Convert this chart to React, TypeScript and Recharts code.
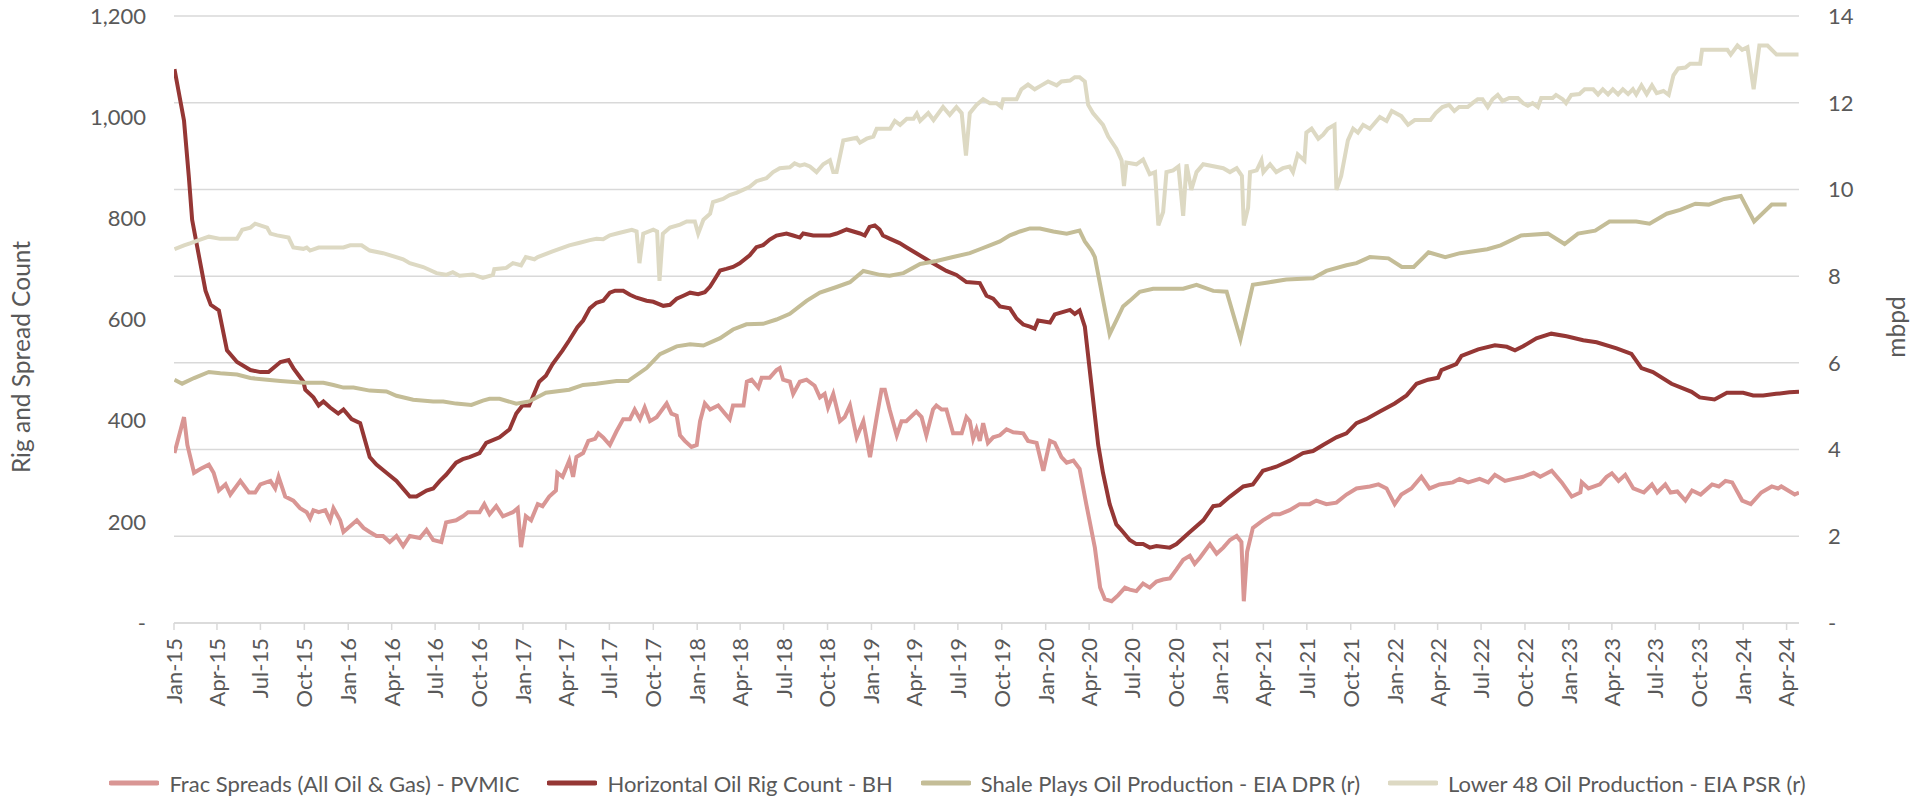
import { CartesianGrid, Legend, Line, LineChart, XAxis, YAxis } from "recharts";

// weekly / monthly readings: [date, value]
const fracSpreads: [string, number][] = [
  ["2015-01-02", 336], ["2015-01-22", 407], ["2015-01-29", 352], ["2015-02-12", 297], ["2015-02-26", 305],
  ["2015-03-15", 313], ["2015-03-25", 297], ["2015-04-05", 262], ["2015-04-19", 274], ["2015-04-29", 254],
  ["2015-05-20", 281], ["2015-06-07", 258], ["2015-06-20", 258], ["2015-07-01", 274], ["2015-07-22", 281],
  ["2015-08-01", 266], ["2015-08-08", 289], ["2015-08-22", 250], ["2015-09-08", 242], ["2015-09-22", 227],
  ["2015-10-06", 219], ["2015-10-13", 207], ["2015-10-20", 223], ["2015-10-31", 219], ["2015-11-14", 223],
  ["2015-11-24", 203], ["2015-12-01", 227], ["2015-12-15", 203], ["2015-12-22", 180], ["2016-01-19", 203],
  ["2016-02-02", 188], ["2016-02-15", 180], ["2016-02-29", 172], ["2016-03-14", 172], ["2016-03-28", 160],
  ["2016-04-11", 172], ["2016-04-25", 152], ["2016-05-09", 172], ["2016-05-30", 168], ["2016-06-13", 184],
  ["2016-06-27", 164], ["2016-07-14", 160], ["2016-07-24", 199], ["2016-08-14", 203], ["2016-08-28", 211],
  ["2016-09-08", 219], ["2016-10-02", 219], ["2016-10-12", 235], ["2016-10-23", 215], ["2016-11-06", 231],
  ["2016-11-20", 211], ["2016-12-11", 219], ["2016-12-21", 227], ["2016-12-28", 150], ["2017-01-07", 211],
  ["2017-01-18", 203], ["2017-02-01", 235], ["2017-02-11", 231], ["2017-02-25", 250], ["2017-03-11", 262],
  ["2017-03-14", 297], ["2017-03-25", 289], ["2017-04-08", 321], ["2017-04-16", 289], ["2017-04-23", 328],
  ["2017-05-07", 336], ["2017-05-18", 360], ["2017-06-01", 364], ["2017-06-08", 375], ["2017-06-18", 367],
  ["2017-07-02", 352], ["2017-07-16", 379], ["2017-07-30", 403], ["2017-08-13", 403], ["2017-08-23", 422],
  ["2017-09-03", 403], ["2017-09-13", 426], ["2017-09-24", 399], ["2017-10-08", 407], ["2017-10-29", 434],
  ["2017-11-08", 414], ["2017-11-19", 410], ["2017-11-26", 371], ["2017-12-06", 360], ["2017-12-20", 348],
  ["2017-12-31", 352], ["2018-01-07", 399], ["2018-01-17", 434], ["2018-01-28", 422], ["2018-02-14", 430],
  ["2018-02-28", 414], ["2018-03-10", 403], ["2018-03-17", 430], ["2018-04-08", 430], ["2018-04-15", 477],
  ["2018-04-25", 481], ["2018-05-09", 465], ["2018-05-16", 485], ["2018-06-02", 485], ["2018-06-16", 500],
  ["2018-06-23", 504], ["2018-06-30", 481], ["2018-07-14", 477], ["2018-07-21", 453], ["2018-08-04", 477],
  ["2018-08-18", 481], ["2018-09-04", 469], ["2018-09-15", 446], ["2018-09-25", 453], ["2018-10-02", 426],
  ["2018-10-13", 453], ["2018-10-27", 399], ["2018-11-06", 407], ["2018-11-17", 430], ["2018-12-01", 367],
  ["2018-12-15", 399], ["2018-12-29", 328], ["2019-01-12", 407], ["2019-01-22", 461], ["2019-01-29", 461],
  ["2019-02-08", 422], ["2019-02-23", 371], ["2019-03-05", 399], ["2019-03-15", 399], ["2019-04-05", 418],
  ["2019-04-16", 407], ["2019-04-26", 371], ["2019-05-10", 422], ["2019-05-17", 430], ["2019-05-28", 422],
  ["2019-06-07", 422], ["2019-06-21", 375], ["2019-07-09", 375], ["2019-07-19", 407], ["2019-07-26", 399],
  ["2019-08-02", 364], ["2019-08-09", 383], ["2019-08-16", 360], ["2019-08-23", 395], ["2019-09-02", 356],
  ["2019-09-13", 367], ["2019-09-27", 371], ["2019-10-11", 383], ["2019-10-25", 377], ["2019-11-15", 375],
  ["2019-11-25", 360], ["2019-12-13", 356], ["2019-12-27", 301], ["2020-01-10", 360], ["2020-01-20", 356],
  ["2020-02-03", 328], ["2020-02-14", 317], ["2020-02-28", 321], ["2020-03-12", 305], ["2020-03-26", 235],
  ["2020-04-13", 149], ["2020-04-24", 70], ["2020-05-04", 47], ["2020-05-18", 43], ["2020-06-01", 55],
  ["2020-06-15", 70], ["2020-06-25", 66], ["2020-07-09", 63], ["2020-07-23", 78], ["2020-08-06", 70],
  ["2020-08-20", 82], ["2020-09-03", 86], ["2020-09-17", 88], ["2020-10-01", 106], ["2020-10-15", 125],
  ["2020-10-29", 133], ["2020-11-08", 117], ["2020-11-19", 129], ["2020-12-10", 156], ["2020-12-24", 137],
  ["2021-01-07", 149], ["2021-01-21", 164], ["2021-02-04", 172], ["2021-02-14", 160], ["2021-02-19", 43],
  ["2021-02-26", 141], ["2021-03-10", 188], ["2021-03-31", 203], ["2021-04-21", 215], ["2021-05-05", 215],
  ["2021-05-26", 223], ["2021-06-16", 235], ["2021-07-07", 235], ["2021-07-21", 242], ["2021-08-11", 235],
  ["2021-09-01", 238], ["2021-09-22", 254], ["2021-10-13", 266], ["2021-11-10", 270], ["2021-11-28", 274],
  ["2021-12-15", 266], ["2022-01-01", 235], ["2022-01-15", 254], ["2022-02-05", 266], ["2022-02-26", 289],
  ["2022-03-15", 266], ["2022-04-05", 274], ["2022-05-03", 278], ["2022-05-17", 285], ["2022-06-04", 278],
  ["2022-06-28", 285], ["2022-07-16", 278], ["2022-07-30", 293], ["2022-08-20", 281], ["2022-09-07", 285],
  ["2022-09-27", 289], ["2022-10-19", 297], ["2022-11-02", 289], ["2022-11-26", 301], ["2022-12-17", 278],
  ["2023-01-07", 250], ["2023-01-25", 258], ["2023-01-28", 278], ["2023-02-11", 266], ["2023-03-07", 274],
  ["2023-03-21", 289], ["2023-04-01", 296], ["2023-04-15", 281], ["2023-04-29", 293], ["2023-05-16", 266],
  ["2023-06-07", 258], ["2023-06-24", 274], ["2023-07-05", 258], ["2023-07-22", 274], ["2023-08-02", 258],
  ["2023-08-16", 260], ["2023-09-02", 242], ["2023-09-16", 262], ["2023-10-04", 254], ["2023-10-28", 274],
  ["2023-11-11", 270], ["2023-11-25", 281], ["2023-12-09", 278], ["2023-12-30", 242], ["2024-01-17", 235],
  ["2024-02-08", 258], ["2024-03-01", 270], ["2024-03-14", 266], ["2024-03-21", 270], ["2024-04-18", 254],
  ["2024-04-27", 258],
];

const rigCount: [string, number][] = [
  ["2015-01-02", 1095], ["2015-01-22", 993], ["2015-02-01", 883], ["2015-02-08", 797], ["2015-02-22", 727],
  ["2015-03-08", 657], ["2015-03-19", 629], ["2015-04-05", 618], ["2015-04-22", 539], ["2015-05-13", 516],
  ["2015-06-10", 500], ["2015-07-01", 496], ["2015-07-18", 496], ["2015-08-12", 516], ["2015-08-29", 520],
  ["2015-09-08", 504], ["2015-09-29", 477], ["2015-10-03", 461], ["2015-10-20", 446], ["2015-10-31", 430],
  ["2015-11-10", 438], ["2015-11-24", 426], ["2015-12-11", 414], ["2015-12-22", 422], ["2016-01-08", 403],
  ["2016-01-26", 395], ["2016-02-15", 328], ["2016-02-29", 313], ["2016-03-21", 297], ["2016-04-11", 281],
  ["2016-05-09", 250], ["2016-05-23", 250], ["2016-06-13", 262], ["2016-06-27", 266], ["2016-07-11", 281],
  ["2016-07-24", 293], ["2016-08-14", 317], ["2016-08-28", 324], ["2016-09-11", 328], ["2016-10-02", 336],
  ["2016-10-16", 356], ["2016-11-13", 367], ["2016-12-04", 383], ["2016-12-18", 414], ["2016-12-31", 430],
  ["2017-01-14", 430], ["2017-02-04", 477], ["2017-02-18", 489], ["2017-03-04", 512], ["2017-03-25", 539],
  ["2017-04-08", 559], ["2017-04-25", 585], ["2017-05-07", 598], ["2017-05-21", 622], ["2017-06-04", 633],
  ["2017-06-18", 637], ["2017-07-02", 653], ["2017-07-13", 657], ["2017-07-30", 657], ["2017-08-13", 649],
  ["2017-08-27", 643], ["2017-09-17", 637], ["2017-10-01", 635], ["2017-10-22", 627], ["2017-11-05", 629],
  ["2017-11-19", 641], ["2017-12-03", 647], ["2017-12-17", 653], ["2018-01-03", 650], ["2018-01-17", 654],
  ["2018-01-28", 665], ["2018-02-07", 680], ["2018-02-18", 697], ["2018-03-03", 700], ["2018-03-17", 704],
  ["2018-03-31", 711], ["2018-04-21", 727], ["2018-05-05", 743], ["2018-05-19", 747], ["2018-06-02", 758],
  ["2018-06-16", 766], ["2018-07-07", 770], ["2018-07-21", 766], ["2018-08-04", 762], ["2018-08-11", 770],
  ["2018-09-01", 766], ["2018-10-06", 766], ["2018-10-20", 770], ["2018-11-10", 778], ["2018-12-08", 770],
  ["2018-12-18", 766], ["2018-12-28", 783], ["2019-01-08", 786], ["2019-01-18", 778], ["2019-01-25", 766],
  ["2019-02-08", 760], ["2019-03-01", 751], ["2019-03-15", 743], ["2019-04-05", 731], ["2019-04-26", 719],
  ["2019-05-10", 711], ["2019-06-07", 696], ["2019-06-28", 688], ["2019-07-19", 674], ["2019-08-16", 672],
  ["2019-08-30", 647], ["2019-09-13", 641], ["2019-09-27", 626], ["2019-10-18", 622], ["2019-11-01", 602],
  ["2019-11-15", 590], ["2019-11-29", 586], ["2019-12-09", 582], ["2019-12-16", 598], ["2020-01-10", 594],
  ["2020-01-20", 610], ["2020-02-07", 615], ["2020-02-21", 619], ["2020-03-02", 611], ["2020-03-12", 618],
  ["2020-03-23", 586], ["2020-04-06", 469], ["2020-04-20", 352], ["2020-04-30", 297], ["2020-05-14", 235],
  ["2020-05-28", 195], ["2020-06-11", 180], ["2020-06-25", 164], ["2020-07-09", 156], ["2020-07-23", 156],
  ["2020-08-06", 149], ["2020-08-20", 152], ["2020-09-17", 149], ["2020-10-01", 156], ["2020-10-29", 180],
  ["2020-11-26", 203], ["2020-12-17", 231], ["2020-12-31", 233], ["2021-01-21", 250], ["2021-02-18", 270],
  ["2021-03-10", 274], ["2021-03-31", 301], ["2021-04-28", 309], ["2021-05-26", 321], ["2021-06-23", 336],
  ["2021-07-14", 340], ["2021-08-04", 352], ["2021-09-01", 367], ["2021-09-22", 375], ["2021-10-13", 395],
  ["2021-11-02", 403], ["2021-12-01", 418], ["2022-01-01", 434], ["2022-01-26", 450], ["2022-02-16", 473],
  ["2022-03-12", 481], ["2022-04-02", 485], ["2022-04-09", 500], ["2022-05-10", 512], ["2022-05-21", 528],
  ["2022-06-25", 541], ["2022-07-30", 549], ["2022-08-24", 546], ["2022-09-10", 539], ["2022-09-27", 547],
  ["2022-10-25", 563], ["2022-11-25", 572], ["2022-12-27", 567], ["2023-01-31", 559], ["2023-02-28", 555],
  ["2023-04-11", 543], ["2023-05-12", 532], ["2023-06-02", 504], ["2023-06-26", 496], ["2023-08-04", 473],
  ["2023-09-15", 457], ["2023-10-02", 446], ["2023-11-02", 442], ["2023-11-28", 455], ["2024-01-01", 455],
  ["2024-01-22", 450], ["2024-02-12", 450], ["2024-03-10", 453], ["2024-04-07", 456], ["2024-04-27", 457],
];

const shaleProduction: [string, number][] = [
  ["2015-01-02", 5.61], ["2015-01-18", 5.52], ["2015-02-12", 5.65], ["2015-03-15", 5.79], ["2015-04-08", 5.76],
  ["2015-05-13", 5.73], ["2015-06-10", 5.65], ["2015-07-15", 5.61], ["2015-08-12", 5.58], ["2015-09-29", 5.54],
  ["2015-11-10", 5.54], ["2015-12-01", 5.49], ["2015-12-22", 5.43], ["2016-01-12", 5.43], ["2016-02-15", 5.36],
  ["2016-03-21", 5.34], ["2016-04-11", 5.24], ["2016-05-16", 5.15], ["2016-06-27", 5.11], ["2016-07-18", 5.11],
  ["2016-08-14", 5.06], ["2016-09-15", 5.03], ["2016-10-09", 5.13], ["2016-10-23", 5.17], ["2016-11-13", 5.17],
  ["2016-12-18", 5.06], ["2017-01-14", 5.11], ["2017-02-18", 5.31], ["2017-04-08", 5.38], ["2017-05-07", 5.49],
  ["2017-06-04", 5.52], ["2017-07-16", 5.58], ["2017-08-09", 5.58], ["2017-09-17", 5.88], ["2017-10-15", 6.2],
  ["2017-11-19", 6.38], ["2017-12-17", 6.43], ["2018-01-14", 6.4], ["2018-02-18", 6.57], ["2018-03-17", 6.77],
  ["2018-04-14", 6.89], ["2018-05-19", 6.9], ["2018-06-16", 7.0], ["2018-07-14", 7.13], ["2018-08-18", 7.43],
  ["2018-09-15", 7.62], ["2018-10-20", 7.75], ["2018-11-17", 7.86], ["2018-12-15", 8.12], ["2019-01-19", 8.03],
  ["2019-02-08", 8.01], ["2019-03-09", 8.07], ["2019-04-13", 8.28], ["2019-05-17", 8.35], ["2019-06-21", 8.44],
  ["2019-07-26", 8.53], ["2019-08-16", 8.62], ["2019-09-06", 8.71], ["2019-09-27", 8.8], ["2019-10-18", 8.94],
  ["2019-11-08", 9.03], ["2019-11-29", 9.1], ["2019-12-20", 9.1], ["2020-01-17", 9.03], ["2020-02-14", 8.98],
  ["2020-03-12", 9.05], ["2020-03-23", 8.8], ["2020-04-06", 8.59], ["2020-04-13", 8.44], ["2020-05-14", 6.66],
  ["2020-05-28", 6.98], ["2020-06-11", 7.3], ["2020-06-25", 7.43], ["2020-07-16", 7.64], ["2020-08-13", 7.71],
  ["2020-10-15", 7.71], ["2020-11-12", 7.8], ["2020-12-17", 7.66], ["2021-01-14", 7.64], ["2021-02-12", 6.55],
  ["2021-03-10", 7.8], ["2021-04-14", 7.86], ["2021-05-19", 7.92], ["2021-07-14", 7.95], ["2021-08-11", 8.12],
  ["2021-09-22", 8.25], ["2021-10-13", 8.3], ["2021-11-10", 8.44], ["2021-12-19", 8.41], ["2022-01-16", 8.21],
  ["2022-02-10", 8.21], ["2022-03-13", 8.55], ["2022-04-17", 8.44], ["2022-05-18", 8.53], ["2022-07-14", 8.62],
  ["2022-08-11", 8.71], ["2022-09-23", 8.94], ["2022-11-18", 8.98], ["2022-12-23", 8.74], ["2023-01-20", 8.98],
  ["2023-02-25", 9.05], ["2023-03-27", 9.26], ["2023-05-22", 9.26], ["2023-06-19", 9.21], ["2023-07-25", 9.44],
  ["2023-08-22", 9.53], ["2023-09-23", 9.67], ["2023-10-21", 9.65], ["2023-11-22", 9.78], ["2023-12-27", 9.85],
  ["2024-01-24", 9.26], ["2024-03-01", 9.65], ["2024-04-01", 9.65],
];

const lower48Production: [string, number][] = [
  ["2015-01-02", 8.62], ["2015-01-22", 8.71], ["2015-02-05", 8.76], ["2015-02-19", 8.82], ["2015-03-15", 8.91],
  ["2015-04-08", 8.86], ["2015-05-13", 8.86], ["2015-05-24", 9.07], ["2015-06-10", 9.12], ["2015-06-20", 9.21],
  ["2015-07-15", 9.12], ["2015-07-22", 8.98], ["2015-08-05", 8.94], ["2015-08-29", 8.89], ["2015-09-08", 8.66],
  ["2015-09-29", 8.63], ["2015-10-06", 8.66], ["2015-10-13", 8.59], ["2015-10-31", 8.66], ["2015-11-24", 8.66],
  ["2015-12-22", 8.66], ["2016-01-05", 8.71], ["2016-01-29", 8.71], ["2016-02-15", 8.59], ["2016-03-14", 8.53],
  ["2016-04-25", 8.39], ["2016-05-09", 8.3], ["2016-06-06", 8.21], ["2016-07-04", 8.07], ["2016-07-24", 8.03],
  ["2016-08-07", 8.09], ["2016-08-21", 8.01], ["2016-09-18", 8.04], ["2016-10-09", 7.96], ["2016-10-30", 8.03],
  ["2016-11-02", 8.16], ["2016-11-27", 8.19], ["2016-12-11", 8.3], ["2016-12-28", 8.25], ["2017-01-07", 8.44],
  ["2017-01-25", 8.39], ["2017-02-01", 8.44], ["2017-03-04", 8.57], ["2017-04-08", 8.71], ["2017-04-30", 8.77],
  ["2017-05-21", 8.83], ["2017-06-04", 8.86], ["2017-06-18", 8.85], ["2017-07-02", 8.94], ["2017-07-23", 9.0],
  ["2017-08-17", 9.07], ["2017-08-27", 9.03], ["2017-09-02", 8.3], ["2017-09-10", 8.98], ["2017-10-01", 9.07],
  ["2017-10-09", 9.03], ["2017-10-14", 7.89], ["2017-10-21", 8.98], ["2017-11-05", 9.12], ["2017-11-26", 9.19],
  ["2017-12-10", 9.26], ["2017-12-27", 9.26], ["2018-01-03", 8.98], ["2018-01-14", 9.3], ["2018-01-28", 9.44],
  ["2018-02-03", 9.71], ["2018-02-24", 9.78], ["2018-03-10", 9.87], ["2018-03-24", 9.92], ["2018-04-07", 9.99],
  ["2018-04-21", 10.06], ["2018-05-05", 10.19], ["2018-05-26", 10.26], ["2018-06-09", 10.4], ["2018-06-23", 10.49],
  ["2018-07-14", 10.51], ["2018-07-24", 10.6], ["2018-08-04", 10.55], ["2018-08-14", 10.58], ["2018-08-25", 10.53],
  ["2018-09-08", 10.4], ["2018-09-22", 10.58], ["2018-10-06", 10.67], ["2018-10-13", 10.4], ["2018-10-20", 10.4],
  ["2018-11-03", 11.13], ["2018-12-01", 11.19], ["2018-12-08", 11.08], ["2018-12-22", 11.17], ["2019-01-05", 11.22],
  ["2019-01-12", 11.4], ["2019-02-09", 11.4], ["2019-02-19", 11.58], ["2019-03-02", 11.49], ["2019-03-16", 11.63],
  ["2019-03-30", 11.63], ["2019-04-06", 11.75], ["2019-04-13", 11.58], ["2019-04-30", 11.76], ["2019-05-11", 11.6],
  ["2019-05-31", 11.9], ["2019-06-14", 11.72], ["2019-06-28", 11.9], ["2019-07-09", 11.76], ["2019-07-18", 10.78],
  ["2019-07-26", 11.76], ["2019-08-09", 11.95], ["2019-08-23", 12.08], ["2019-09-06", 11.99], ["2019-09-20", 11.99],
  ["2019-09-30", 11.9], ["2019-10-04", 12.08], ["2019-11-01", 12.08], ["2019-11-11", 12.31], ["2019-11-25", 12.42],
  ["2019-12-09", 12.31], ["2019-12-23", 12.4], ["2020-01-06", 12.49], ["2020-01-24", 12.4], ["2020-02-03", 12.49],
  ["2020-02-21", 12.51], ["2020-03-02", 12.59], ["2020-03-12", 12.59], ["2020-03-23", 12.49], ["2020-03-30", 11.95],
  ["2020-04-09", 11.76], ["2020-04-30", 11.49], ["2020-05-11", 11.22], ["2020-05-28", 10.94], ["2020-06-08", 10.67],
  ["2020-06-13", 10.08], ["2020-06-18", 10.62], ["2020-07-09", 10.58], ["2020-07-23", 10.69], ["2020-08-06", 10.35],
  ["2020-08-17", 10.4], ["2020-08-24", 9.17], ["2020-09-03", 9.48], ["2020-09-10", 10.4], ["2020-09-24", 10.44],
  ["2020-10-05", 10.53], ["2020-10-15", 9.39], ["2020-10-22", 10.58], ["2020-11-01", 9.99], ["2020-11-12", 10.4],
  ["2020-11-26", 10.58], ["2021-01-07", 10.49], ["2021-01-21", 10.4], ["2021-02-04", 10.49], ["2021-02-15", 10.31],
  ["2021-02-19", 9.17], ["2021-02-28", 9.58], ["2021-03-04", 10.4], ["2021-03-18", 10.44], ["2021-03-28", 10.67],
  ["2021-04-01", 10.4], ["2021-04-15", 10.58], ["2021-04-28", 10.4], ["2021-05-12", 10.49], ["2021-05-26", 10.53],
  ["2021-06-02", 10.4], ["2021-06-12", 10.81], ["2021-06-26", 10.67], ["2021-06-30", 11.31], ["2021-07-11", 11.4],
  ["2021-07-25", 11.17], ["2021-08-04", 11.26], ["2021-08-14", 11.4], ["2021-08-28", 11.49], ["2021-09-01", 9.99],
  ["2021-09-11", 10.31], ["2021-09-25", 11.13], ["2021-10-06", 11.4], ["2021-10-16", 11.31], ["2021-10-27", 11.49],
  ["2021-11-10", 11.4], ["2021-12-01", 11.67], ["2021-12-15", 11.58], ["2021-12-26", 11.81], ["2022-01-15", 11.69],
  ["2022-01-29", 11.49], ["2022-02-12", 11.6], ["2022-03-17", 11.6], ["2022-03-28", 11.76], ["2022-04-11", 11.9],
  ["2022-04-25", 11.95], ["2022-05-06", 11.81], ["2022-05-16", 11.9], ["2022-06-03", 11.9], ["2022-06-13", 11.99],
  ["2022-06-24", 12.08], ["2022-07-04", 12.08], ["2022-07-15", 11.9], ["2022-07-25", 12.08], ["2022-08-05", 12.18],
  ["2022-08-15", 12.04], ["2022-08-29", 12.11], ["2022-09-16", 12.11], ["2022-09-27", 11.99], ["2022-10-07", 11.93],
  ["2022-10-17", 11.99], ["2022-10-28", 11.9], ["2022-11-04", 12.11], ["2022-11-28", 12.11], ["2022-12-05", 12.18],
  ["2022-12-19", 12.08], ["2022-12-26", 11.99], ["2023-01-06", 12.18], ["2023-01-23", 12.2], ["2023-02-03", 12.31],
  ["2023-02-21", 12.31], ["2023-03-03", 12.19], ["2023-03-13", 12.31], ["2023-03-24", 12.19], ["2023-04-03", 12.31],
  ["2023-04-14", 12.19], ["2023-04-24", 12.31], ["2023-05-05", 12.2], ["2023-05-15", 12.31], ["2023-05-22", 12.19],
  ["2023-06-02", 12.4], ["2023-06-13", 12.2], ["2023-06-24", 12.4], ["2023-07-04", 12.22], ["2023-07-18", 12.27],
  ["2023-07-29", 12.18], ["2023-08-08", 12.63], ["2023-08-18", 12.79], ["2023-09-02", 12.81], ["2023-09-12", 12.9],
  ["2023-10-03", 12.9], ["2023-10-07", 13.22], ["2023-11-29", 13.22], ["2023-12-06", 13.11], ["2023-12-20", 13.32],
  ["2023-12-30", 13.22], ["2024-01-10", 13.28], ["2024-01-23", 12.31], ["2024-02-04", 13.32], ["2024-02-21", 13.32],
  ["2024-03-11", 13.11], ["2024-04-26", 13.11],
];

const tickMonths = ["Jan", "Apr", "Jul", "Oct"];
const tickYears = ["15", "16", "17", "18", "19", "20", "21", "22", "23", "24"];
const leftTicks = [0, 200, 400, 600, 800, 1000, 1200];
const rightTicks = [0, 2, 4, 6, 8, 10, 12, 14];

const FONT = "Lato, 'Open Sans', sans-serif";
const TEXT = "#595959";
const GRID = "#D9D9D9";

const toDay = (d: string) => {
  const [y, m, dd] = d.split("-").map(Number);
  return (Date.UTC(y, m - 1, dd) - Date.UTC(2015, 0, 1)) / 86400000;
};
const toPoints = (rows: [string, number][]) => rows.map(([d, v]) => ({ t: toDay(d), v }));

const xEnd = toDay("2024-04-27");
const xTicks: { day: number; label: string }[] = [];
tickYears.forEach((yr) =>
  tickMonths.forEach((mon, i) => {
    const day = toDay(`20${yr}-${String(i * 3 + 1).padStart(2, "0")}-01`);
    if (day <= xEnd) xTicks.push({ day, label: `${mon}-${yr}` });
  }),
);
const tickLabel = new Map(xTicks.map((t) => [t.day, t.label]));

const series = [
  { key: "frac", name: "Frac Spreads (All Oil & Gas) - PVMIC", color: "#D99694", axis: "left", rows: fracSpreads },
  { key: "rig", name: "Horizontal Oil Rig Count - BH", color: "#953735", axis: "left", rows: rigCount },
  { key: "shale", name: "Shale Plays Oil Production - EIA DPR (r)", color: "#C4BD97", axis: "right", rows: shaleProduction },
  { key: "l48", name: "Lower 48 Oil Production - EIA PSR (r)", color: "#DDD9C3", axis: "right", rows: lower48Production },
];

function DateTick(props: any) {
  const { x, y, payload } = props;
  return (
    <text
      x={x}
      y={y}
      dy="0.36em"
      transform={`rotate(-90 ${x} ${y})`}
      textAnchor="end"
      fill={TEXT}
      fontSize={22}
      fontFamily={FONT}
    >
      {tickLabel.get(payload.value)}
    </text>
  );
}

function LegendRow() {
  return (
    <div
      style={{
        display: "flex",
        justifyContent: "center",
        alignItems: "center",
        height: 30,
        gap: 28,
        fontFamily: FONT,
        fontSize: 22,
        color: TEXT,
        whiteSpace: "nowrap",
      }}
    >
      {series.map((s) => (
        <div key={s.key} style={{ display: "flex", alignItems: "center", gap: 10 }}>
          <svg width={50} height={8}>
            <line x1={2} y1={4} x2={48} y2={4} stroke={s.color} strokeWidth={5} strokeLinecap="round" />
          </svg>
          <span>{s.name}</span>
        </div>
      ))}
    </div>
  );
}

const tickStyle = { fill: TEXT, fontSize: 22, fontFamily: FONT };

export default function App() {
  return (
    <div style={{ position: "absolute", left: 0, top: 0, width: 1915, height: 801, background: "#fff" }}>
      <LineChart width={1915} height={801} margin={{ top: 16, right: 0, bottom: 3, left: 0 }}>
        <CartesianGrid yAxisId="right" vertical={false} stroke={GRID} strokeWidth={1.5} />
        <XAxis
          type="number"
          dataKey="t"
          domain={[0, xEnd]}
          allowDataOverflow
          ticks={xTicks.map((t) => t.day)}
          interval={0}
          height={145}
          tick={(p: any) => <DateTick {...p} />}
          tickSize={7}
          tickMargin={8}
          tickLine={{ stroke: GRID, strokeWidth: 1.5 }}
          axisLine={{ stroke: GRID, strokeWidth: 1.5 }}
        />
        <YAxis
          yAxisId="left"
          orientation="left"
          domain={[0, 1200]}
          ticks={leftTicks}
          interval={0}
          width={174}
          axisLine={false}
          tickLine={false}
          tickSize={0}
          tickMargin={28}
          tick={tickStyle}
          tickFormatter={(v: number) => (v === 0 ? "-" : v.toLocaleString("en-US"))}
          label={{
            content: () => (
              <text
                x={30}
                y={357}
                transform="rotate(-90 30 357)"
                textAnchor="middle"
                fill={TEXT}
                fontSize={24.5}
                fontFamily={FONT}
              >
                Rig and Spread Count
              </text>
            ),
          }}
        />
        <YAxis
          yAxisId="right"
          orientation="right"
          domain={[0, 14]}
          ticks={rightTicks}
          interval={0}
          width={116}
          axisLine={false}
          tickLine={false}
          tickSize={0}
          tickMargin={29}
          tick={tickStyle}
          tickFormatter={(v: number) => (v === 0 ? "-" : String(v))}
          label={{
            content: () => (
              <text
                x={1905}
                y={327}
                transform="rotate(-90 1905 327)"
                textAnchor="middle"
                fill={TEXT}
                fontSize={24.5}
                fontFamily={FONT}
              >
                mbpd
              </text>
            ),
          }}
        />
        <Legend verticalAlign="bottom" height={30} content={() => <LegendRow />} />
        {series.map((s) => (
          <Line
            key={s.key}
            yAxisId={s.axis}
            data={toPoints(s.rows)}
            dataKey="v"
            name={s.name}
            type="linear"
            stroke={s.color}
            strokeWidth={4}
            dot={false}
            activeDot={false}
            isAnimationActive={false}
          />
        ))}
      </LineChart>
    </div>
  );
}
